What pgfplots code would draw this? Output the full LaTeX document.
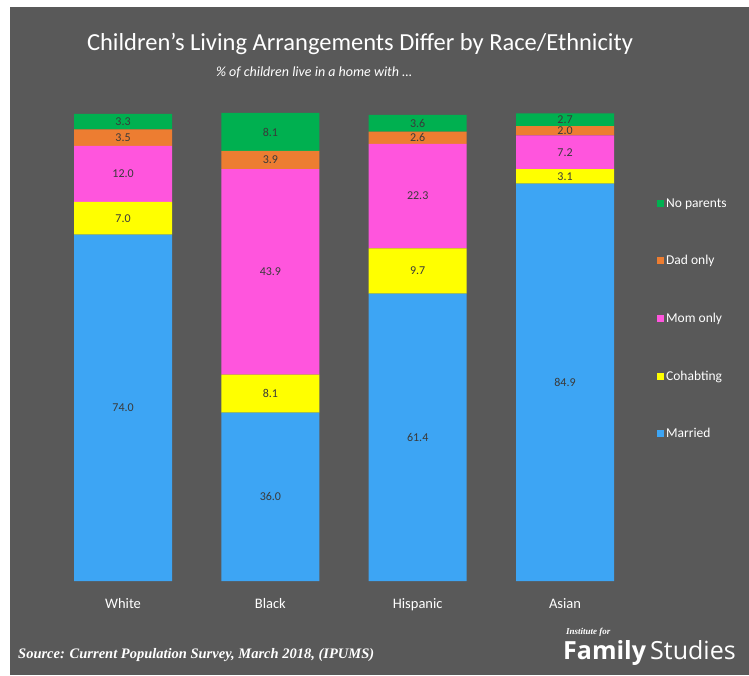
\documentclass[border=0pt]{standalone}
\usepackage{pgfplots}
\pgfplotsset{compat=1.18}
\usepackage{fontspec}
\setmainfont{Carlito}
\newfontfamily\srcfont{Liberation Serif}
\newfontfamily\logofont{Open Sans}
\definecolor{bg}{HTML}{595959}
\definecolor{cMarried}{HTML}{3DA5F4}
\definecolor{cCohab}{HTML}{FFFF00}
\definecolor{cMom}{HTML}{FF55DD}
\definecolor{cDad}{HTML}{ED7D31}
\definecolor{cNone}{HTML}{00B050}
\definecolor{lbl}{HTML}{3A3A3A}
\begin{document}
\begin{tikzpicture}[x=1pt,y=1pt]
\fill[white] (0pt,0pt) rectangle (749pt,675pt);
\fill[bg] (10pt,0pt) rectangle (749pt,668pt);
\node[white, font=\fontsize{24.5}{29}\selectfont] at (360pt,631pt) {Children’s Living Arrangements Differ by Race/Ethnicity};
\node[white, font=\fontsize{14}{17}\selectfont\itshape] at (314pt,603pt) {\% of children live in a home with …};
\node[white, anchor=west, inner sep=0pt, font=\srcfont\fontsize{14.5}{16}\selectfont\bfseries\itshape] at (18pt,20pt) {Source: Current Population Survey, March 2018, (IPUMS)};
\node[white, anchor=west, inner sep=0pt, font=\srcfont\fontsize{9}{10}\selectfont\bfseries\itshape] at (566pt,43pt) {Institute for};
\node[white, anchor=west, inner sep=0pt, font=\logofont\fontsize{25}{28}\selectfont] at (563pt,22pt) {\textbf{Family}\,Studies};
\begin{axis}[
  at={(49.4pt,94pt)}, anchor=south west,
  scale only axis, width=589.3pt, height=468pt,
  xmin=-0.5, xmax=3.5, ymin=0, ymax=100,
  enlargelimits=false,
  ybar stacked, bar width=98pt,
  axis line style={draw=none},
  xtick={0,1,2,3}, xticklabels={White,Black,Hispanic,Asian},
  ytick=\empty, major tick length=0pt,
  xticklabel style={white, font=\fontsize{14.5}{16}\selectfont, yshift=-14pt},
  nodes near coords,
  point meta=explicit symbolic,
  every node near coord/.append style={anchor=center, font=\fontsize{12}{14}\selectfont, text=lbl},
  legend image code/.code={\fill[#1] (0pt,-3.5pt) rectangle (7pt,3.5pt);},
  reverse legend,
  legend cell align=left,
  legend style={at={(1.031,0.822)}, anchor=north west, draw=none, fill=none, text=white, font=\fontsize{13.5}{15}\selectfont, row sep=42.8pt, inner sep=0pt},
]
\addplot[fill=cMarried, draw=none] coordinates {(0,74.0) [74.0] (1,36.0) [36.0] (2,61.4) [61.4] (3,84.9) [84.9]};
\addplot[fill=cCohab, draw=none] coordinates {(0,7.0) [7.0] (1,8.1) [8.1] (2,9.7) [9.7] (3,3.1) [3.1]};
\addplot[fill=cMom, draw=none] coordinates {(0,12.0) [12.0] (1,43.9) [43.9] (2,22.3) [22.3] (3,7.2) [7.2]};
\addplot[fill=cDad, draw=none] coordinates {(0,3.5) [3.5] (1,3.9) [3.9] (2,2.6) [2.6] (3,2.0) [2.0]};
\addplot[fill=cNone, draw=none] coordinates {(0,3.3) [3.3] (1,8.1) [8.1] (2,3.6) [3.6] (3,2.7) [2.7]};
\legend{Married,Cohabting,Mom only,Dad only,No parents}
\end{axis}
\end{tikzpicture}
\end{document}
